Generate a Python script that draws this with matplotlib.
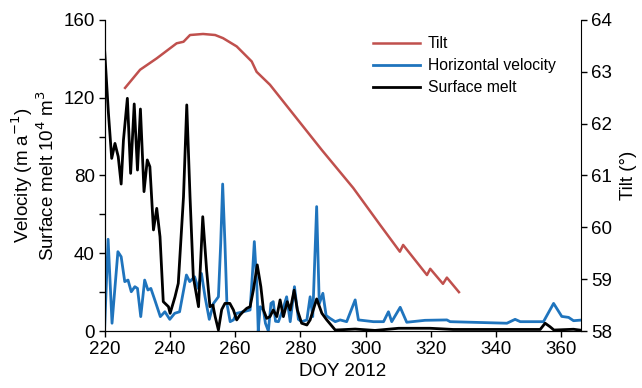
import matplotlib
matplotlib.use("Agg")
import matplotlib.pyplot as plt
from matplotlib.ticker import MultipleLocator

plt.rcParams['font.family'] = ['Liberation Sans', 'DejaVu Sans']

# Tilt (right axis)
tilt_day = [226.3, 230.9, 236.0, 242.1, 244.2, 246.2, 250.2, 253.9, 256.3, 260.5,
            265.1, 266.6, 270.7, 286.6, 296.2, 304.4, 310.5, 311.5, 318.8, 319.8,
            323.7, 324.9, 328.6]
tilt_val = [62.69, 63.04, 63.26, 63.55, 63.58, 63.71, 63.73, 63.71, 63.65, 63.49,
            63.20, 63.00, 62.75, 61.49, 60.76, 60.05, 59.53, 59.66, 59.08, 59.20,
            58.91, 59.03, 58.75]

# Horizontal velocity (left axis)
vel_day = [220.0, 221.1, 222.3, 224.1, 225.1, 226.2, 227.2, 228.2, 229.3, 230.1,
           231.1, 232.3, 233.3, 234.2, 235.4, 237.1, 238.5, 240.0, 241.5, 243.0,
           245.1, 246.1, 247.6, 248.7, 249.7, 250.8, 252.1, 253.4, 254.9, 255.6,
           256.2, 256.9, 257.5, 258.5, 259.5, 260.5, 262.5, 264.6, 265.4, 265.9,
           266.7, 267.1, 267.7, 268.7, 269.3, 270.2, 271.0, 271.7, 272.4, 273.3,
           274.8, 275.8, 276.9, 278.2, 279.4, 280.4, 282.0, 283.0, 283.8, 285.0,
           285.8, 286.9, 287.9, 289.1, 290.7, 292.2, 294.2, 296.8, 297.8, 302.4,
           305.5, 307.0, 308.0, 310.6, 312.6, 318.2, 324.9, 325.9, 343.3, 345.8,
           347.4, 354.5, 357.6, 360.1, 362.2, 363.7, 366.7]
vel_val = [0, 47.2, 4, 40.8, 38.2, 25.4, 26.2, 20.2, 22.8, 21.9,
           7.4, 26.2, 21.1, 21.9, 16, 7.4, 9.9, 6, 9.1, 9.9,
           28.8, 25.4, 27.9, 21.9, 29.6, 17.6, 6, 14.2, 17.6, 45,
           75.6, 45, 14.2, 4.8, 5.7, 9.1, 9.9, 10.8, 31.4, 46,
           22.8, 0, 12.5, 10.8, 4, 0, 14.2, 15.1, 5, 4.8,
           12, 17.6, 4.8, 22.8, 6, 4.8, 5.7, 17.6, 7.4, 64,
           14, 19.4, 8, 6.5, 4.8, 5.7, 4.8, 16, 5.7, 4.8,
           4.8, 9.9, 4.8, 12.2, 4.5, 5.5, 5.7, 4.8, 4, 6,
           4.8, 4.8, 14.2, 7.5, 7, 5.3, 5.7]

# Surface melt (left axis)
melt_day = [220.0, 221.2, 222.2, 223.2, 224.2, 225.1, 225.8, 227.0, 228.0, 229.1,
            230.1, 231.0, 232.1, 233.1, 233.9, 235.0, 236.0, 237.0, 238.0, 239.6,
            240.1, 241.6, 242.6, 244.2, 245.2, 246.2, 247.2, 248.8, 250.1, 251.3,
            252.3, 253.2, 253.9, 254.9, 255.9, 256.9, 258.4, 259.5, 260.5, 261.5,
            262.5, 263.6, 264.6, 265.6, 266.8, 267.9, 268.7, 269.7, 270.7, 271.7,
            272.8, 273.8, 274.8, 276.0, 276.9, 278.1, 279.1, 280.4, 282.0, 283.0,
            285.0, 286.6, 288.1, 290.7, 296.8, 302.9, 310.1, 319.8, 326.8, 353.5,
            355.0, 356.5, 357.7, 363.7, 366.5]
melt_val = [145.4, 112, 88.8, 96.5, 89.7, 75.6, 98.2, 119.7, 81.1, 116.8,
            82.8, 114.2, 71.7, 88, 84.5, 52, 63.1, 48.5, 15.1, 12.5,
            9.1, 17.6, 24.5, 69, 116.3, 69, 27.9, 12.5, 58.8, 31,
            12.5, 13.4, 7.4, 0.5, 11, 14.2, 14.2, 10.8, 5.7, 8.2,
            10, 11.7, 12.5, 21, 34, 22.8, 10.8, 6.5, 7.4, 10.8,
            7.4, 16, 7.4, 15.1, 10.8, 21, 10.8, 4, 3.1, 5.7,
            16.5, 9.1, 5.7, 0.5, 1.0, 0.3, 1.4, 1.4, 0.8, 0.8,
            4.0, 2.2, 0.5, 0.9, 0.3]

RED = '#c0504d'
BLUE = '#1f74bd'
FS = 13.5

fig = plt.figure(figsize=(6.42, 3.88), dpi=100)
ax = fig.add_axes([0.1628, 0.1469, 0.905 - 0.1628, 0.9485 - 0.1469])
ax2 = ax.twinx()

lv, = ax.plot(vel_day, vel_val, color=BLUE, lw=2.0, zorder=2,
              solid_joinstyle='round', label='Horizontal velocity')
lm, = ax.plot(melt_day, melt_val, color='black', lw=2.0, zorder=3,
              solid_joinstyle='round', label='Surface melt')
lt, = ax2.plot(tilt_day, tilt_val, color=RED, lw=1.8,
               solid_joinstyle='round', label='Tilt')

ax.set_xlim(220, 366)
ax.set_ylim(0, 160)
ax2.set_ylim(58, 64)

ax.set_xticks(range(220, 361, 20))
ax.set_yticks(range(0, 161, 40))
ax.yaxis.set_minor_locator(MultipleLocator(20))
ax2.set_yticks(range(58, 65, 1))

for a in (ax, ax2):
    a.spines['top'].set_visible(False)
    a.tick_params(direction='out', labelsize=FS, length=4, width=1, pad=3)
    a.tick_params(which='minor', direction='out', length=4, width=1)
ax.spines['right'].set_visible(False)

ax.set_xlabel('DOY 2012', fontsize=FS, labelpad=4)
ax.set_ylabel('Velocity (m a$^{-1}$)\nSurface melt 10$^4$ m$^3$', fontsize=FS,
              labelpad=4, linespacing=1.05)
ax2.set_ylabel('Tilt (°)', fontsize=FS, labelpad=6)

leg = fig.legend(handles=[lt, lv, lm], loc='upper left',
                 bbox_to_anchor=(373 / 642, 1 - 36 / 388),
                 frameon=False, fontsize=11.3, handlelength=3.0,
                 handletextpad=0.5, labelspacing=0.45, borderpad=0,
                 borderaxespad=0)

fig.savefig('out.png', dpi=100)
